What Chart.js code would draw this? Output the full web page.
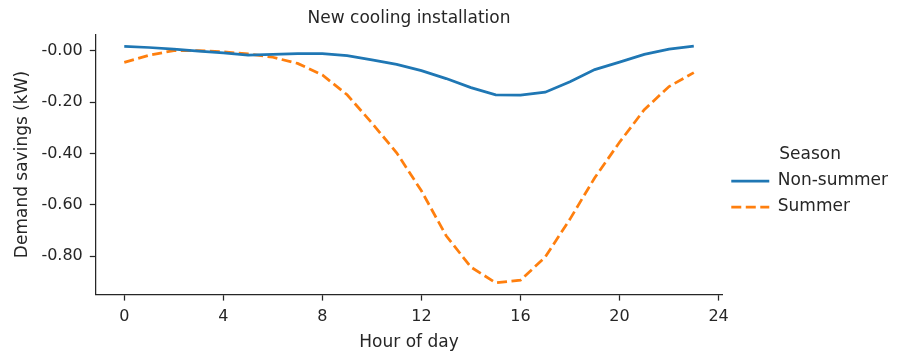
<!DOCTYPE html>
<html>
<head>
<meta charset="utf-8">
<script src="https://cdn.jsdelivr.net/npm/chart.js@4"></script>
<style>
  html, body { margin: 0; padding: 0; background: #fff; }
  #wrap { width: 902px; height: 353px; position: relative; }
</style>
</head>
<body>
<div id="wrap"><canvas id="chart"></canvas></div>
<script>
// Data
const hours = [0, 1, 2, 3, 4, 5, 6, 7, 8, 9, 10, 11, 12, 13, 14, 15, 16, 17, 18, 19, 20, 21, 22, 23];
const nonSummer = [0.017, 0.013, 0.007, -0.001, -0.008, -0.017, -0.014, -0.011, -0.011, -0.019, -0.035, -0.053,
                   -0.077, -0.108, -0.143, -0.171, -0.172, -0.161, -0.120, -0.073, -0.044, -0.014, 0.007, 0.018];
const summer = [-0.045, -0.017, 0.001, 0.001, -0.004, -0.012, -0.025, -0.049, -0.094, -0.171, -0.281, -0.397,
                -0.545, -0.720, -0.842, -0.903, -0.893, -0.803, -0.655, -0.494, -0.356, -0.229, -0.139, -0.085];
const seriesNames = ['Non-summer', 'Summer'];
const xTicks = [0, 4, 8, 12, 16, 20, 24];
const yTicks = [0, -0.2, -0.4, -0.6, -0.8];
const yTickLabels = ['-0.00', '-0.20', '-0.40', '-0.60', '-0.80'];

const textColor = '#262626';
const font = 'DejaVu Sans';

const toPoints = (ys) => hours.map((h, i) => ({ x: h, y: ys[i] }));

const axisStyle = {
    border: { display: true, color: textColor, width: 1.25 },
    grid: { display: true, drawOnChartArea: false, drawTicks: true, tickLength: 6, tickWidth: 1.25, tickColor: textColor }
};

new Chart(document.getElementById('chart'), {
    type: 'line',
    data: {
        datasets: [
            {
                label: seriesNames[0],
                data: toPoints(nonSummer),
                borderColor: '#1f77b4',
                backgroundColor: '#1f77b4',
                borderWidth: 2.75,
                pointRadius: 0,
                tension: 0
            },
            {
                label: seriesNames[1],
                data: toPoints(summer),
                borderColor: '#ff7f0e',
                backgroundColor: '#ff7f0e',
                borderWidth: 2.75,
                borderDash: [10, 4.5],
                pointRadius: 0,
                tension: 0
            }
        ]
    },
    options: {
        responsive: true,
        maintainAspectRatio: false,
        animation: false,
        layout: { padding: { left: 12, right: 4, top: 0, bottom: 0 } },
        scales: {
            x: {
                type: 'linear',
                min: -1.15,
                max: 24.15,
                ...axisStyle,
                afterBuildTicks: (axis) => { axis.ticks = xTicks.map(v => ({ value: v })); },
                ticks: {
                    color: textColor,
                    font: { family: font, size: 16, lineHeight: 1.0 },
                    padding: 8,
                    maxRotation: 0,
                    callback: (v) => String(v)
                },
                title: {
                    display: true,
                    text: 'Hour of day',
                    color: textColor,
                    font: { family: font, size: 17 },
                    padding: { top: 0, bottom: 0 }
                }
            },
            y: {
                type: 'linear',
                min: -0.949,
                max: 0.064,
                ...axisStyle,
                afterBuildTicks: (axis) => { axis.ticks = yTicks.map(v => ({ value: v })); },
                ticks: {
                    color: textColor,
                    font: { family: font, size: 16 },
                    padding: 7,
                    callback: (v) => {
                        const i = yTicks.findIndex(t => Math.abs(t - v) < 1e-9);
                        return i >= 0 ? yTickLabels[i] : '';
                    }
                },
                title: {
                    display: true,
                    text: 'Demand savings (kW)',
                    color: textColor,
                    font: { family: font, size: 17 },
                    padding: { top: 0, bottom: 2 }
                }
            }
        },
        plugins: {
            title: {
                display: true,
                text: 'New cooling installation',
                color: textColor,
                fullSize: false,
                font: { family: font, size: 17, weight: 'normal' },
                padding: { top: 8, bottom: 6 }
            },
            legend: {
                position: 'right',
                align: 'center',
                title: {
                    display: true,
                    text: 'Season',
                    color: textColor,
                    font: { family: font, size: 17, lineHeight: 1.0 },
                    padding: { top: 18, bottom: 0 }
                },
                labels: {
                    color: textColor,
                    font: { family: font, size: 17 },
                    usePointStyle: true,
                    pointStyle: 'line',
                    pointStyleWidth: 38,
                    padding: 9,
                    // keep each dataset's dash and width in the legend sample
                    generateLabels: (chart) => Chart.defaults.plugins.legend.labels.generateLabels(chart).map((item) => {
                        const ds = chart.data.datasets[item.datasetIndex];
                        return { ...item, lineDash: ds.borderDash || [], lineWidth: ds.borderWidth, strokeStyle: ds.borderColor };
                    })
                }
            },
            tooltip: { enabled: false }
        }
    }
});
</script>
</body>
</html>
